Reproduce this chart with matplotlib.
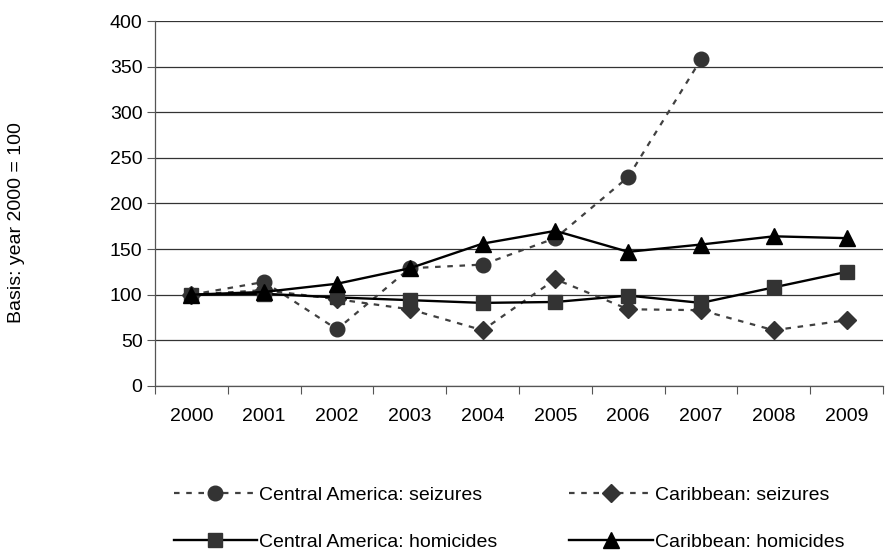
import matplotlib
matplotlib.use('Agg')
import matplotlib.pyplot as plt

plt.rcParams['font.family'] = ['Liberation Sans', 'DejaVu Sans']

years = ['2000', '2001', '2002', '2003', '2004', '2005', '2006', '2007', '2008', '2009']

ca_seizures = [100, 114, 62, 129, 133, 162, 229, 358, None, None]
car_seizures = [100, 105, 95, 84, 61, 117, 84, 83, 61, 72]
ca_homicides = [100, 101, 97, 94, 91, 92, 99, 91, 108, 125]
car_homicides = [100, 103, 112, 129, 156, 170, 147, 155, 164, 162]

x = list(range(len(years)))

fig = plt.figure(figsize=(8.91, 5.56), dpi=100)
ax = fig.add_axes([0.174, 0.306, 0.817, 0.656])

dash = (0, (2.5, 3))
ca_s_x = [i for i, v in zip(x, ca_seizures) if v is not None]
ca_s_y = [v for v in ca_seizures if v is not None]

l1, = ax.plot(ca_s_x, ca_s_y, linestyle=dash, color='#404040', lw=1.6,
              marker='o', markersize=10.5, markerfacecolor='#333333',
              markeredgecolor='#333333', label='Central America: seizures')
l2, = ax.plot(x, car_seizures, linestyle=dash, color='#404040', lw=1.6,
              marker='D', markersize=9, markerfacecolor='#333333',
              markeredgecolor='#333333', label='Caribbean: seizures')
l3, = ax.plot(x, ca_homicides, linestyle='-', color='black', lw=1.7,
              marker='s', markersize=10, markerfacecolor='#333333',
              markeredgecolor='#333333', label='Central America: homicides')
l4, = ax.plot(x, car_homicides, linestyle='-', color='black', lw=1.7,
              marker='^', markersize=11, markerfacecolor='black',
              markeredgecolor='black', label='Caribbean: homicides')

ax.set_xlim(-0.5, len(years) - 0.5)
ax.set_ylim(0, 400)
ax.set_yticks(range(0, 401, 50))
ax.set_xticks(x)
ax.set_xticklabels(years)
ax.set_xticks([i - 0.5 for i in range(len(years) + 1)], minor=True)
ax.tick_params(axis='x', which='major', length=0, pad=16, labelsize=14)
ax.tick_params(axis='x', which='minor', length=6, width=0.8, color='#555555')
ax.tick_params(axis='y', length=6, width=0.8, color='#555555', labelsize=14, pad=3)

ax.grid(axis='y', color='#333333', lw=0.9)
ax.set_axisbelow(True)
for s in ['top', 'right']:
    ax.spines[s].set_visible(False)
for s in ['left', 'bottom']:
    ax.spines[s].set_color('#555555')
    ax.spines[s].set_linewidth(0.9)

fig.text(0.018, 0.60, 'Basis: year 2000 = 100', rotation=90, ha='center',
         va='center', fontsize=14)

fig.legend(handles=[l1, l3, l2, l4], ncol=2, loc='upper left',
           bbox_to_anchor=(0.186, 0.14), bbox_transform=fig.transFigure,
           frameon=False, fontsize=14, handlelength=4.3, handletextpad=0.1,
           columnspacing=3.7, labelspacing=1.55, borderaxespad=0)

plt.savefig('out.png', dpi=100)
